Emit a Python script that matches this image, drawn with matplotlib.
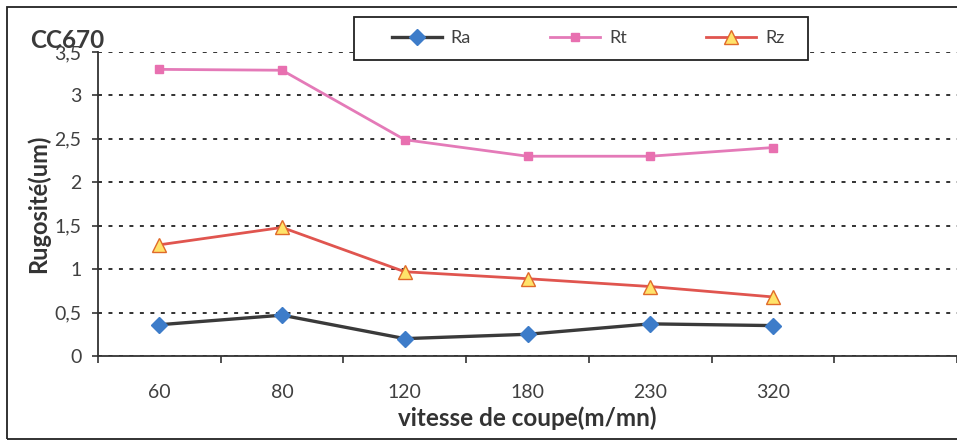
import matplotlib
matplotlib.use("Agg")
import matplotlib.pyplot as plt
from matplotlib.patches import Rectangle
from matplotlib.ticker import FuncFormatter, FixedLocator
import numpy as np

plt.rcParams['font.family'] = ['Lato', 'DejaVu Sans']

# Cutting speeds (m/mn) and roughness values (um)
vitesses = ["60", "80", "120", "180", "230", "320"]
ra = [0.36, 0.47, 0.20, 0.25, 0.37, 0.35]
rt = [3.30, 3.29, 2.49, 2.30, 2.30, 2.40]
rz = [1.28, 1.48, 0.97, 0.89, 0.80, 0.68]
y_ticks = [0, 0.5, 1, 1.5, 2, 2.5, 3, 3.5]

W, H = 957, 448
fig = plt.figure(figsize=(W / 100, H / 100), dpi=100)
fig.patch.set_facecolor("white")

# outer chart frame (runs off the right edge)
fig.add_artist(Rectangle((7 / W, 1 - 439 / H), 1.2, (439 - 7) / H,
                         transform=fig.transFigure, fill=False,
                         edgecolor="#222222", linewidth=1.3, clip_on=False))

ax = fig.add_axes([98 / W, 1 - 356 / H, (W - 98) / W, (356 - 52) / H])
x = np.arange(len(vitesses))

ax.plot(x, ra, color="#3a3a3a", linewidth=2.4, marker="D", markersize=8.5,
        markerfacecolor="#3d7cc9", markeredgecolor="#3d7cc9", label="Ra", zorder=3)
ax.plot(x, rt, color="#e47ab8", linewidth=2.0, marker="s", markersize=5.5,
        markerfacecolor="#e870b0", markeredgecolor="#e870b0", label="Rt", zorder=3)
ax.plot(x, rz, color="#e0554f", linewidth=2.0, marker="^", markersize=10,
        markerfacecolor="#ffe36a", markeredgecolor="#e06a2a", markeredgewidth=1.0,
        label="Rz", zorder=3)

ax.set_xlim(-0.5, 6.5)
ax.set_ylim(0, 3.5)

ax.set_yticks(y_ticks)
ax.yaxis.set_major_formatter(FuncFormatter(lambda v, p: f"{v:g}".replace(".", ",")))
ax.yaxis.grid(True, linestyle=(0, (2.2, 3.6)), color="#222222", linewidth=1.3)
ax.set_axisbelow(True)

ax.set_xticks(x)
ax.set_xticklabels(vitesses)
ax.xaxis.set_minor_locator(FixedLocator(np.arange(-0.5, 7.0, 1.0)))
ax.tick_params(axis="x", which="major", length=0, pad=20, labelsize=14,
               labelcolor="#404040")
ax.tick_params(axis="x", which="minor", length=5, width=1.2, color="#333333",
               direction="out")
ax.tick_params(axis="y", length=4, width=1.2, color="#333333", pad=8,
               labelsize=14, labelcolor="#404040")

for s in ("top", "right"):
    ax.spines[s].set_visible(False)
for s in ("left", "bottom"):
    ax.spines[s].set_color("#333333")
    ax.spines[s].set_linewidth(1.3)

ax.set_xlabel("vitesse de coupe(m/mn)", fontsize=17.5, fontweight="bold",
              color="#333333", labelpad=4)
ax.set_ylabel("Rugosité(um)", fontsize=17, fontweight="bold", color="#333333",
              labelpad=3)

fig.text(30 / W, 1 - 40 / H, "CC670", fontsize=17.5, fontweight="bold",
         color="#3a3a3a", va="center", ha="left")

# legend box
fig.add_artist(Rectangle((354 / W, 1 - 60 / H), (808 - 354) / W, (60 - 17) / H,
                         transform=fig.transFigure, facecolor="white",
                         edgecolor="#222222", linewidth=1.3, zorder=4))
leg = fig.legend(loc="center left", ncol=3,
                 bbox_to_anchor=(392 / W, 1 - 38 / H),
                 bbox_transform=fig.transFigure, frameon=False,
                 fontsize=13, handlelength=2.75, handletextpad=0.5,
                 columnspacing=4.4, borderaxespad=0, borderpad=0)
leg.set_zorder(5)
for t in leg.get_texts():
    t.set_color("#404040")

fig.savefig("out.png", dpi=100, facecolor="white")
